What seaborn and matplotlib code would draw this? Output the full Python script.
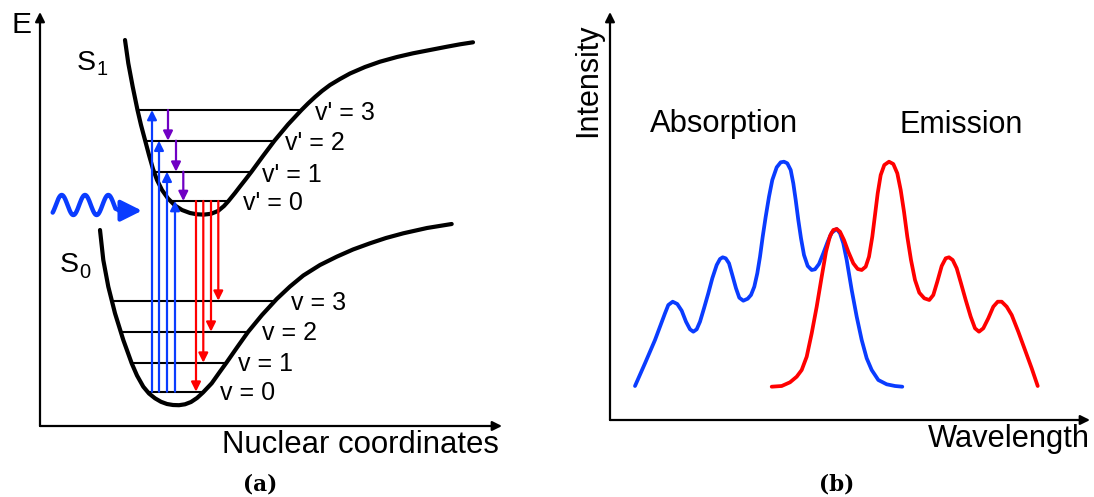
import numpy as np
import pandas as pd
import matplotlib
matplotlib.use("Agg")
import matplotlib.pyplot as plt
import seaborn as sns

# ---------------- panel (a): potential energy curves ----------------
s1_q = [85, 88.3, 92.7, 97.5, 101, 105, 109, 113, 117, 122, 128, 135, 142, 150, 157,
        164, 171, 178, 184, 188.5, 195, 200, 205.5, 211.5, 223, 234.5, 248, 261.5,
        268, 275, 282, 290, 300, 310, 325, 340, 357, 373, 390, 407, 420, 433]
s1_E = [386, 362.7, 339.3, 316, 301, 286, 271, 257, 246, 236, 227.5, 220.5, 216, 213,
        211.7, 211.4, 212.2, 215, 220, 225, 233, 239.5, 246.5, 254.3, 270, 285.3,
        301.5, 316, 322.5, 329, 335, 341, 347, 352.5, 359, 364.3, 369, 372.7, 376,
        379.3, 381.7, 383.7]
s0_q = [60, 63.3, 68.3, 75, 83.3, 91.7, 97, 103.3, 109, 115, 121, 127, 133, 139, 145,
        151, 157, 163, 171.7, 179, 186.7, 197, 208, 222, 236.7, 250, 263.3, 280,
        296.7, 313, 330, 346, 363.3, 387, 411.7]
s0_E = [196, 166, 139.3, 112.7, 86, 62.7, 50.5, 39.3, 32.5, 27.7, 24.2, 22, 21, 20.8,
        21.7, 24, 28, 33.5, 42.7, 53, 63.7, 78.5, 94, 111, 127, 139.5, 150.5, 161,
        169.3, 176.5, 182.7, 188, 192.7, 198, 202]

# vibrational levels (v = 0..3)
s1_levels = [225.0, 254.3, 285.3, 316.0]
s1_left = [130.0, 114.5, 105.0, 97.5]
s1_right = [188.5, 211.5, 234.5, 261.5]
s0_levels = [34.3, 63.3, 94.3, 125.3]
s0_left = [106.5, 91.5, 80.7, 71.8]
s0_right = [163.5, 186.5, 208.0, 235.0]
s1_labels = ["v' = 0", "v' = 1", "v' = 2", "v' = 3"]
s0_labels = ["v = 0", "v = 1", "v = 2", "v = 3"]

# transitions
absorb_q = [135.0, 127.0, 119.0, 112.0]   # v=0 -> v'=0..3
relax_q = [143.3, 136.0, 128.0]           # v'=1->0, 2->1, 3->2
emit_q = [156.0, 163.3, 171.0, 178.3]     # v'=0 -> v=0..3

# ---------------- panel (b): spectra ----------------
abs_x = [25, 35, 45, 55, 58.3, 62.7, 67.3, 71.7, 76, 80, 83.3, 86.7, 90, 94, 98.3,
         102.3, 106.7, 110, 112.7, 115.7, 119, 122.3, 126, 129.3, 133.3, 137.7, 141,
         144.3, 147.3, 150, 152.7, 155.7, 159, 162.3, 166.7, 170.7, 174, 177.3, 180.7,
         183.3, 185.7, 188.3, 191, 194, 197.7, 201.7, 205, 209, 213.3, 217.7, 221.7,
         226.7, 230, 233.3, 236.7, 241.7, 246.7, 251.7, 256.7, 261.7, 268.3, 276.7,
         285, 292.3]
abs_y = [34, 56.7, 80, 106.7, 115, 118.3, 116, 109.3, 98.3, 90.7, 88.3, 90.7, 98.3,
         111.7, 126.7, 141.7, 155, 161, 162.7, 161.7, 156.7, 145, 131.7, 122.3, 119.3,
         121.3, 125, 133.3, 146.7, 163.3, 183.3, 203.3, 223.3, 240, 252.7, 257.7,
         258.3, 256.7, 250, 236.7, 220, 200, 181.7, 165, 154, 150, 150.7, 156, 166.7,
         178.3, 187.3, 191, 186.7, 176.7, 160, 130, 103.3, 80, 61.7, 50, 40, 35.7, 34,
         33.3]
emi_x = [161.7, 171.7, 180, 186.7, 191.7, 196.7, 201.7, 206.7, 211.7, 216, 220, 223.3,
         226.7, 230, 234, 238.3, 243.3, 247.7, 251.7, 255.7, 259, 262.3, 265, 267.7,
         270.7, 274.3, 279, 283.3, 287.3, 290.7, 294, 297.3, 301, 305, 309.3, 314.3,
         319.3, 323.3, 327.3, 331.7, 335.7, 339, 342.7, 346.7, 351, 355.7, 360.7, 365,
         369, 373.3, 378.3, 383.3, 387.7, 391.7, 396.7, 401.7, 408.3, 415, 421.7, 427.7]
emi_y = [33.3, 34, 37.7, 43.3, 50, 63.3, 86.7, 113.3, 143.3, 168.3, 184, 190, 191,
         188.3, 180, 168.3, 156.7, 151, 150, 153.3, 163.3, 183.3, 205, 226.7, 245, 255,
         258.3, 256, 246.7, 230, 208.3, 183.3, 160, 140, 127.3, 121.7, 120, 125, 138.3,
         154, 161.7, 162.7, 160, 151.7, 136.7, 120, 103.3, 91.7, 88.3, 91.7, 101.7,
         113.3, 118.3, 118.3, 113.3, 105, 88.3, 70, 51.7, 34]

BLUE = "#0a3cff"
RED = "#ff0000"
PURPLE = "#7000c4"
BLACK = "black"

sns.set_theme(style="white")
plt.rcParams["font.family"] = ["Liberation Sans", "DejaVu Sans"]
plt.rcParams["text.color"] = "black"

W, H = 1094, 497
fig = plt.figure(figsize=(W / 100, H / 100), dpi=100)

axA = fig.add_axes([40 / W, 71 / H, 462 / W, 414 / H])
axB = fig.add_axes([610 / W, 77 / H, 480 / W, 408 / H])
for ax, (xr, yr) in ((axA, (462, 414)), (axB, (480, 408))):
    ax.set_xlim(0, xr)
    ax.set_ylim(0, yr)
    ax.axis("off")
    for tip in ((1, 0), (0, 1)):
        ax.annotate("", xy=tip, xytext=(0, 0), xycoords="axes fraction",
                    textcoords="axes fraction",
                    arrowprops=dict(arrowstyle="-|>", color=BLACK, lw=1.6,
                                    mutation_scale=14, shrinkA=0, shrinkB=0))

# ---- panel (a) ----
axA.hlines(s1_levels, s1_left, s1_right, color=BLACK, lw=1.5)
axA.hlines(s0_levels, s0_left, s0_right, color=BLACK, lw=1.5)

curves = pd.DataFrame({"q": s1_q + s0_q, "E": s1_E + s0_E,
                       "state": ["S1"] * len(s1_q) + ["S0"] * len(s0_q)})
sns.lineplot(data=curves, x="q", y="E", units="state", estimator=None, sort=False,
             color=BLACK, linewidth=3.0, ax=axA, legend=False)
for ax_l in axA.lines:
    ax_l.set_clip_on(False)
    ax_l.set_solid_joinstyle("round")


def arrow(ax, x, y0, y1, color, lw=1.6, ms=14):
    ax.annotate("", xy=(x, y1), xytext=(x, y0), xycoords="data",
                arrowprops=dict(arrowstyle="-|>", color=color, lw=lw,
                                mutation_scale=ms, shrinkA=0, shrinkB=0))


for q, lev in zip(absorb_q, s1_levels):
    arrow(axA, q, s0_levels[0], lev, BLUE)
for q, (hi, lo) in zip(relax_q, [(s1_levels[1], s1_levels[0]),
                                 (s1_levels[2], s1_levels[1]),
                                 (s1_levels[3], s1_levels[2])]):
    arrow(axA, q, hi, lo, PURPLE)
for q, lev in zip(emit_q, s0_levels):
    arrow(axA, q, s1_levels[0], lev, RED)

# photon (wavy arrow)
wq = np.linspace(12.7, 75.5, 200)
wE = 221 + 10 * np.sin(2 * np.pi * (wq - 21.7) / 23.3 + np.pi / 2)
axA.plot(np.append(wq, 80), np.append(wE, 215.3), color=BLUE, lw=3.2,
         solid_capstyle="round", solid_joinstyle="round", clip_on=False)
axA.annotate("", xy=(102, 215.3), xytext=(79, 215.3),
             arrowprops=dict(arrowstyle="-|>", color=BLUE, lw=3.0,
                             mutation_scale=32, shrinkA=0, shrinkB=0))

lab = dict(fontsize=18, color=BLACK, va="baseline", ha="left")
for txt, x, y in zip(s1_labels, [203.3, 221.7, 245, 275], [216, 244.3, 276, 306]):
    axA.text(x, y, txt, **lab)
for txt, x, y in zip(s0_labels, [180, 198.3, 221.7, 251], [26, 55, 86, 116]):
    axA.text(x, y, txt, **lab)

axA.text(36.5, 356, "S", fontsize=20.5, va="baseline", ha="left")
axA.text(56, 351, "1", fontsize=14.5, va="baseline", ha="left")
axA.text(19.5, 154.3, "S", fontsize=20.5, va="baseline", ha="left")
axA.text(39.2, 147.7, "0", fontsize=14.5, va="baseline", ha="left")

axA.text(-28.3, 393.3, "E", fontsize=21.5, va="baseline", ha="left")
axA.text(182, -27.3, "Nuclear coordinates", fontsize=22.4, va="baseline", ha="left")
axA.text(220, -58, "(a)", fontsize=15.5, fontweight="bold", family="DejaVu Serif",
         ha="center", va="center")

# ---- panel (b) ----
spec = pd.DataFrame({"wl": abs_x + emi_x, "I": abs_y + emi_y,
                     "kind": ["Absorption"] * len(abs_x) + ["Emission"] * len(emi_x)})
sns.lineplot(data=spec, x="wl", y="I", hue="kind", palette=[BLUE, RED],
             estimator=None, sort=False, linewidth=2.7, ax=axB, legend=False)
for ax_l in axB.lines:
    ax_l.set_solid_joinstyle("round")

axB.text(40, 288.3, "Absorption", fontsize=22.3, va="baseline", ha="left")
axB.text(290, 286.7, "Emission", fontsize=22, va="baseline", ha="left")
axB.text(-22, 340, "Intensity", fontsize=22, rotation=90, ha="center", va="center")
axB.text(318, -26.7, "Wavelength", fontsize=22.2, va="baseline", ha="left")
axB.text(226.7, -65, "(b)", fontsize=15.5, fontweight="bold", family="DejaVu Serif",
         ha="center", va="center")

fig.savefig("out.png", dpi=100)
